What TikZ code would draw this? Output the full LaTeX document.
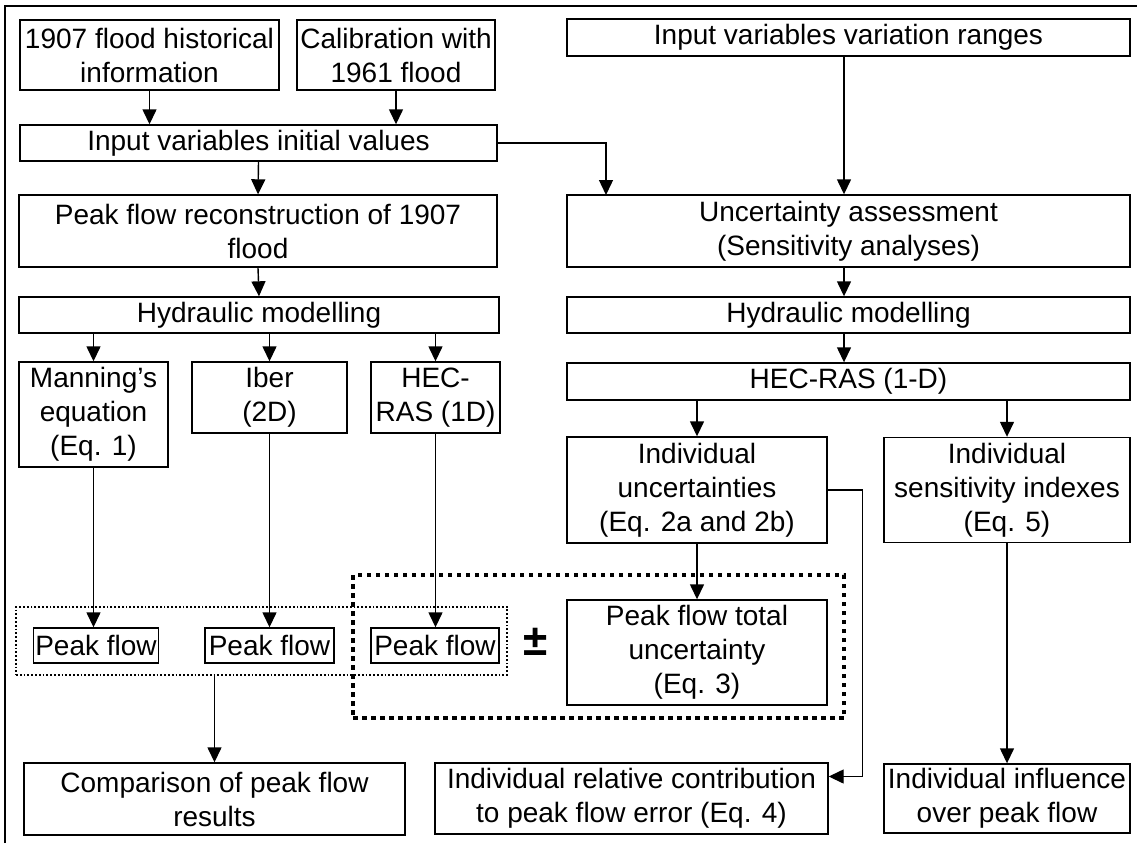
\documentclass[tikz,border=0pt]{standalone}
\usepackage{fontspec}
\setmainfont{Liberation Sans}
\usetikzlibrary{arrows.meta,calc}
\begin{document}
\begin{tikzpicture}[x=1pt,y=-1pt,
  bx/.style={draw, line width=1.4pt, align=center, inner xsep=2pt, inner ysep=0pt,
    font=\fontsize{28}{34}\selectfont},
  arr/.style={line width=1.4pt, -{Triangle[width=14pt,length=15pt]}},
  smalldot/.style={draw, line width=1.8pt, dash pattern=on 1.8pt off 2pt},
  bigdot/.style={draw, line width=4pt, dash pattern=on 4.5pt off 4.5pt},
  frame/.style={line width=2.5pt}]
\useasboundingbox (0,0) rectangle (1137,843);
\draw[frame] (5,843) -- (5,6) -- (1137,6);

% boxes
\node[bx, minimum width=259, minimum height=70] (A) at (149.5,55) {1907 flood historical\\information};
\node[bx, minimum width=198, minimum height=70] (B) at (396,55) {Calibration with\\1961 flood};
\node[bx, minimum width=563, minimum height=37] (C) at (848.5,37.5) {Input variables variation ranges};
\node[bx, minimum width=477, minimum height=36] (D) at (258.5,143) {Input variables initial values};
\node[bx, minimum width=478, minimum height=72] (H) at (258,231) {Peak flow reconstruction of 1907\\flood};
\node[bx, minimum width=563, minimum height=72] (E) at (848.5,231) {Uncertainty assessment\\(Sensitivity analyses)};
\node[bx, minimum width=480, minimum height=36] (I) at (259,315) {Hydraulic modelling};
\node[bx, minimum width=563, minimum height=36] (F) at (848.5,315) {Hydraulic modelling};
\node[bx, minimum width=563, minimum height=37] (G) at (848.5,381.5) {HEC-RAS (1-D)};
\node[bx, minimum width=149, minimum height=105] (J) at (93.5,414.5) {Manning’s\\equation\\(Eq. 1)};
\node[bx, minimum width=155, minimum height=71] (K) at (269.5,397.5) {Iber\\(2D)};
\node[bx, minimum width=129, minimum height=71] (L) at (435.5,397.5) {HEC-\\RAS (1D)};
\node[bx, minimum width=260, minimum height=106] (M) at (697,490) {Individual\\uncertainties\\(Eq. 2a and 2b)};
\node[bx, minimum width=246, minimum height=105] (N) at (1007,490) {Individual\\sensitivity indexes\\(Eq. 5)};

\node[smalldot, minimum width=491, minimum height=68] (sd) at (261.5,641) {};
\node[bigdot, minimum width=491, minimum height=143] (bd) at (598.5,646.5) {};

\node[bx, minimum width=122, minimum height=35] (PF1) at (96,645.5) {Peak flow};
\node[bx, minimum width=129, minimum height=35] (PF2) at (269.5,645.5) {Peak flow};
\node[bx, minimum width=128, minimum height=35] (PF3) at (435,645.5) {Peak flow};
\node[font=\fontsize{44}{44}\selectfont\bfseries, inner sep=0pt] (pm) at (536,642) {±};
\node[bx, minimum width=260, minimum height=105] (P) at (697,652.5) {Peak flow total\\uncertainty\\(Eq. 3)};

\node[bx, minimum width=381, minimum height=72] (Q) at (214.5,799) {Comparison of peak flow\\results};
\node[bx, minimum width=393, minimum height=71] (R) at (631.5,798.5) {Individual relative contribution\\to peak flow error (Eq. 4)};
\node[bx, minimum width=246, minimum height=69] (S) at (1007,798.5) {Individual influence\\over peak flow};

\coordinate (eIn) at (606,195);
\coordinate (rcol) at (844,0);

% connectors
\draw[arr] (A.south) -- (A.south |- D.north);
\draw[arr] (B.south) -- (B.south |- D.north);
\draw[arr] (D.south) -- (H.north);
\draw[arr] (D.east) -| (eIn);
\draw[arr] (rcol |- C.south) -- (rcol |- E.north);
\draw[arr] (H.south) -- (I.north);
\draw[arr] (rcol |- E.south) -- (rcol |- F.north);
\draw[arr] (rcol |- F.south) -- (rcol |- G.north);
\draw[arr] (J.north |- I.south) -- (J.north);
\draw[arr] (K.north |- I.south) -- (K.north);
\draw[arr] (L.north |- I.south) -- (L.north);
\draw[arr] (M.north |- G.south) -- (M.north);
\draw[arr] (N.north |- G.south) -- (N.north);
\draw[arr] (J.south) -- (J.south |- PF1.north);
\draw[arr] (K.south) -- (PF2.north);
\draw[arr] (L.south) -- (L.south |- PF3.north);
\draw[arr] (M.south) -- (P.north);
\draw[arr] (M.east) -- ++(35,0) |- ($(R.east)+(0,-22)$);
\draw[arr] (Q.north |- sd.south) -- (Q.north);
\draw[arr] (N.south) -- (S.north);
\end{tikzpicture}
\end{document}
